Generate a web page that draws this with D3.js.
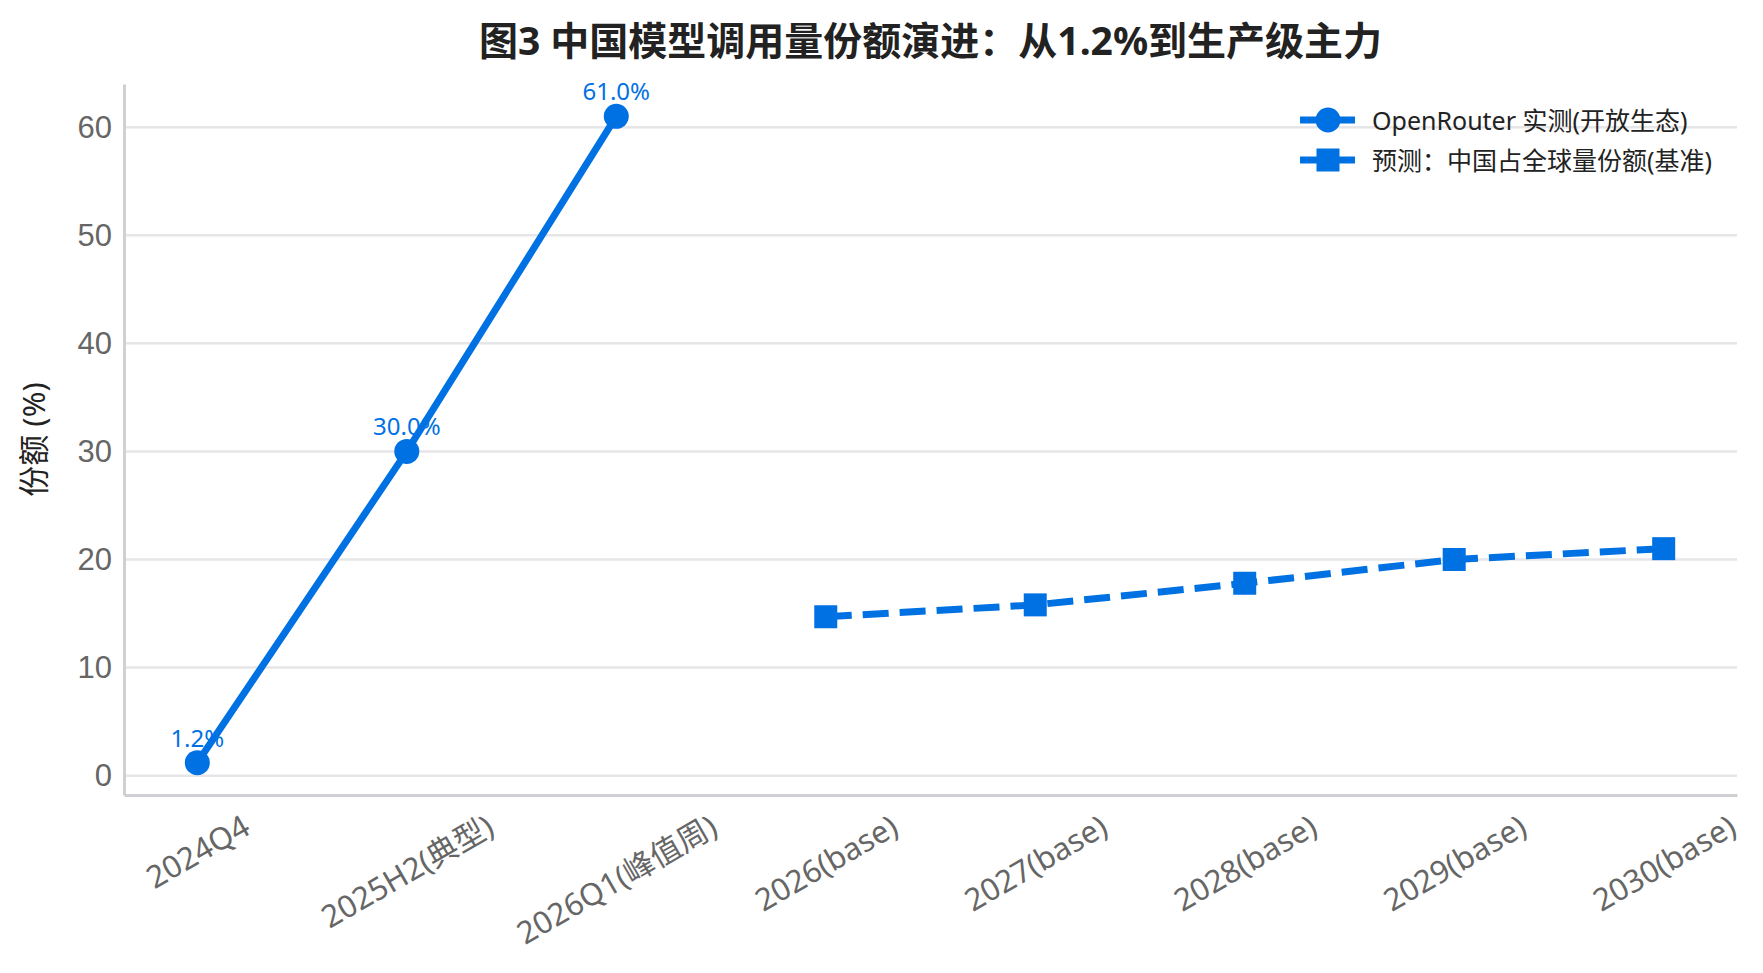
<!DOCTYPE html>
<html>
<head>
<meta charset="utf-8">
<script src="https://cdn.jsdelivr.net/npm/d3@7"></script>
<style>
  body { margin: 0; background: #fff; }
  svg { font-family: "Noto Sans", "Noto Sans CJK SC", sans-serif; }
</style>
</head>
<body>
<svg id="chart"></svg>
<script>
        // Data
        const categories = ["2024Q4", "2025H2(典型)", "2026Q1(峰值周)", "2026(base)", "2027(base)", "2028(base)", "2029(base)", "2030(base)"];
        const actualCats = ["2024Q4", "2025H2(典型)", "2026Q1(峰值周)"];
        const actualValues = [1.2, 30.0, 61.0];
        const forecastCats = ["2026(base)", "2027(base)", "2028(base)", "2029(base)", "2030(base)"];
        const forecastValues = [14.7, 15.8, 17.8, 20.0, 21.0];
        const yTicks = [0, 10, 20, 30, 40, 50, 60];
        const seriesNames = ["OpenRouter 实测(开放生态)", "预测：中国占全球量份额(基准)"];

        // Chart dimensions
        const width = 1763, height = 973;
        const margin = { top: 84, right: 26, bottom: 178, left: 124 };
        const blue = "#0071E3";

        const svg = d3.select("#chart")
            .attr("width", width)
            .attr("height", height);

        // Scales
        const x = d3.scalePoint()
            .domain(categories)
            .range([margin.left, width - margin.right])
            .padding(0.35);

        const allVals = actualValues.concat(forecastValues);
        const vMin = d3.min(allVals), vMax = d3.max(allVals);
        const pad = (vMax - vMin) * 0.05;
        const y = d3.scaleLinear()
            .domain([vMin - pad, vMax + pad])
            .range([height - margin.bottom, margin.top]);

        // Grid lines
        svg.append("g").attr("class", "grid")
            .selectAll("line")
            .data(yTicks)
            .join("line")
            .attr("x1", margin.left)
            .attr("x2", width - margin.right)
            .attr("y1", d => y(d))
            .attr("y2", d => y(d))
            .attr("stroke", "#e6e6e9")
            .attr("stroke-width", 2.5);

        // Y axis
        const yAxis = svg.append("g")
            .attr("transform", `translate(${margin.left},0)`)
            .call(d3.axisLeft(y).tickValues(yTicks).tickSize(0).tickPadding(12));
        yAxis.select(".domain").attr("stroke", "#cfcfd4").attr("stroke-width", 3);
        yAxis.selectAll("text")
            .attr("fill", "#666")
            .style("font-size", "31px");

        // X axis
        const xAxis = svg.append("g")
            .attr("transform", `translate(0,${height - margin.bottom})`)
            .call(d3.axisBottom(x).tickSize(0).tickFormat(""));
        xAxis.select(".domain").attr("stroke", "#cfcfd4").attr("stroke-width", 3);

        // Rotated x labels, centred on the tick
        const xLabels = svg.append("g").attr("class", "xlabels")
            .selectAll("text")
            .data(categories)
            .join("text")
            .text(d => d)
            .attr("text-anchor", "middle")
            .attr("dominant-baseline", "central")
            .attr("fill", "#666")
            .style("font-size", "31px");

        const rad = Math.PI / 6, lineH = 36;
        xLabels.each(function (d) {
            const w = this.getComputedTextLength();
            const boxH = w * Math.sin(rad) + lineH * Math.cos(rad);
            const cy = height - margin.bottom + 12 + boxH / 2;
            d3.select(this)
                .attr("transform", `translate(${x(d)},${cy}) rotate(-30)`);
        });

        // Lines
        const line = d3.line()
            .x(d => x(d[0]))
            .y(d => y(d[1]));

        const actual = d3.zip(actualCats, actualValues);
        const forecast = d3.zip(forecastCats, forecastValues);

        svg.append("path")
            .datum(actual)
            .attr("fill", "none")
            .attr("stroke", blue)
            .attr("stroke-width", 7)
            .attr("d", line);

        svg.append("path")
            .datum(forecast)
            .attr("fill", "none")
            .attr("stroke", blue)
            .attr("stroke-width", 7)
            .attr("stroke-dasharray", "26 11")
            .attr("d", line);

        // Markers
        svg.append("g").selectAll("circle")
            .data(actual)
            .join("circle")
            .attr("cx", d => x(d[0]))
            .attr("cy", d => y(d[1]))
            .attr("r", 12.5)
            .attr("fill", blue);

        svg.append("g").selectAll("rect")
            .data(forecast)
            .join("rect")
            .attr("x", d => x(d[0]) - 11.5)
            .attr("y", d => y(d[1]) - 11.5)
            .attr("width", 23)
            .attr("height", 23)
            .attr("fill", blue);

        // Value labels
        svg.append("g").selectAll("text")
            .data(actual)
            .join("text")
            .attr("x", d => x(d[0]))
            .attr("y", d => y(d[1]) - 16)
            .attr("text-anchor", "middle")
            .attr("fill", blue)
            .style("font-size", "24px")
            .text(d => d[1].toFixed(1) + "%");

        // Title
        svg.append("text")
            .attr("x", (margin.left + width - margin.right) / 2)
            .attr("y", 55)
            .attr("text-anchor", "middle")
            .attr("fill", "#222")
            .style("font-size", "39px")
            .style("font-weight", "bold")
            .text("图3 中国模型调用量份额演进：从1.2%到生产级主力");

        // Y axis title
        svg.append("text")
            .attr("transform", `translate(33,${(margin.top + height - margin.bottom) / 2}) rotate(-90)`)
            .attr("text-anchor", "middle")
            .attr("dominant-baseline", "central")
            .attr("fill", "#222")
            .style("font-size", "31px")
            .text("份额 (%)");

        // Legend
        const legend = svg.append("g").attr("transform", "translate(1300,120)");
        const rows = legend.selectAll("g")
            .data(seriesNames)
            .join("g")
            .attr("transform", (d, i) => `translate(0,${i * 40})`);

        rows.append("line")
            .attr("x1", 0).attr("x2", 55)
            .attr("stroke", blue)
            .attr("stroke-width", 7)
            .attr("stroke-dasharray", (d, i) => i === 1 ? "26 11" : null);

        rows.filter((d, i) => i === 0).append("circle")
            .attr("cx", 28).attr("r", 12.5).attr("fill", blue);
        rows.filter((d, i) => i === 1).append("rect")
            .attr("x", 16.5).attr("y", -11.5).attr("width", 23).attr("height", 23).attr("fill", blue);

        rows.append("text")
            .attr("x", 72)
            .attr("dominant-baseline", "central")
            .attr("fill", "#222")
            .style("font-size", "25px")
            .text(d => d);
</script>
</body>
</html>
